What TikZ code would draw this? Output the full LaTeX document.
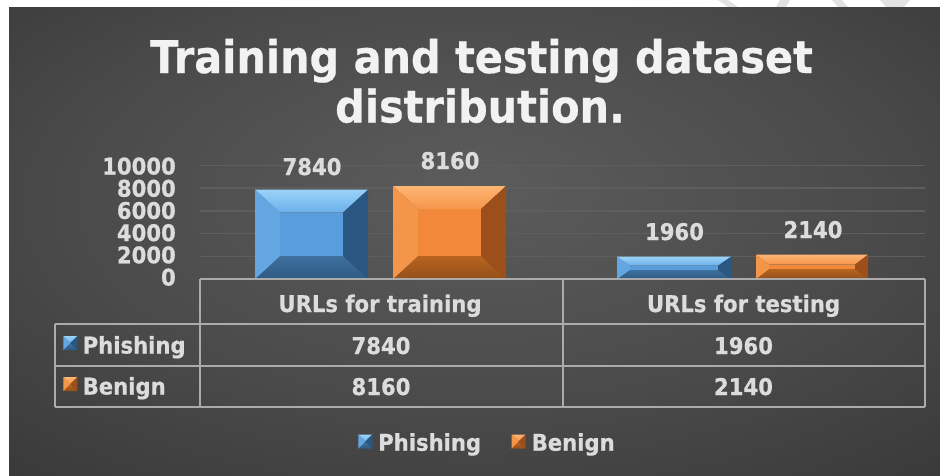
\documentclass[tikz,border=0pt]{standalone}
\usepackage{fontspec}
\setmainfont{DejaVu Sans}[FakeStretch=0.92, BoldFeatures={FakeBold=0.6}]
\definecolor{ttlwhite}{HTML}{F2F2F2}
\definecolor{lbltxt}{HTML}{DCDCDC}
\definecolor{gridc}{HTML}{5E5E5E}
\definecolor{tabline}{HTML}{ABABAB}
\definecolor{wmark}{HTML}{E2E2E2}
% blue bevel
\definecolor{bface}{HTML}{5A9DDC}
\definecolor{btop}{HTML}{9AD3F8}
\definecolor{btopb}{HTML}{6AB0EC}
\definecolor{bleft}{HTML}{64A6E2}
\definecolor{bright}{HTML}{2A5782}
\definecolor{bbot}{HTML}{3E709E}
\definecolor{bbotb}{HTML}{2F5A84}
% orange bevel
\definecolor{oface}{HTML}{F2893A}
\definecolor{otop}{HTML}{FDB574}
\definecolor{otopb}{HTML}{F5964A}
\definecolor{oleft}{HTML}{F4964A}
\definecolor{oright}{HTML}{9C4F1B}
\definecolor{obot}{HTML}{B8641F}
\definecolor{obotb}{HTML}{94501A}
\pgfdeclareradialshading{bgshade}{\pgfpoint{0bp}{6bp}}{%
  color(0bp)=(rgb,255:red,92;green,92;blue,92);
  color(22bp)=(rgb,255:red,74;green,74;blue,74);
  color(45bp)=(rgb,255:red,50;green,50;blue,50);
  color(72bp)=(rgb,255:red,36;green,36;blue,36)}
\newcommand{\bevbar}[7]{%
  \fill[#7face] (#1+#5,#3+#6) rectangle (#2-#5,#4-#6);
  \shade[top color=#7top, bottom color=#7topb] (#1,#3) -- (#2,#3) -- (#2-#5,#3+#6) -- (#1+#5,#3+#6) -- cycle;
  \shade[top color=#7bot, bottom color=#7botb] (#1,#4) -- (#2,#4) -- (#2-#5,#4-#6) -- (#1+#5,#4-#6) -- cycle;
  \fill[#7left] (#1,#3) -- (#1+#5,#3+#6) -- (#1+#5,#4-#6) -- (#1,#4) -- cycle;
  \fill[#7right] (#2,#3) -- (#2-#5,#3+#6) -- (#2-#5,#4-#6) -- (#2,#4) -- cycle;
}
\tikzset{
  ttl/.style={text=ttlwhite, font=\fontsize{45}{45}\selectfont\bfseries, anchor=base, inner sep=0pt},
  lbl/.style={text=lbltxt, font=\fontsize{23}{23}\selectfont\bfseries, anchor=base, inner sep=0pt},
  axl/.style={lbl, anchor=base east},
  lft/.style={lbl, anchor=base west},
  gridl/.style={draw=gridc, line width=1.3pt},
  tabl/.style={draw=tabline, line width=1.6pt},
}
\begin{document}
\begin{tikzpicture}[x=1pt, y=-1pt]
\useasboundingbox (0,0) rectangle (940,475);
\fill[white] (0,0) rectangle (940,475);
% watermark fragments
\fill[wmark] (718,0) -- (728,0) -- (738,7) -- (728,7) -- cycle;
\fill[wmark] (780,0) -- (790,0) -- (786,7) -- (776,7) -- cycle;
\fill[wmark] (832,0) -- (842,0) -- (848,7) -- (838,7) -- cycle;
\fill[wmark] (880,0) -- (910,0) -- (904,7) -- (886,7) -- cycle;
% panel
\shade[shading=bgshade] (9,7) rectangle (940,475);
% gridlines
\foreach \yy in {165.3,188.1,210.9,233.6,256.4}
  \draw[gridl] (200,\yy) -- (925,\yy);
% axis labels
\node[axl] (y10) at (176,174.5) {10000};
\node[axl] (y8) at (176,196.7) {8000};
\node[axl] (y6) at (176,218.9) {6000};
\node[axl] (y4) at (176,241.1) {4000};
\node[axl] (y2) at (176,263.3) {2000};
\node[axl] (y0) at (176,285.5) {0};
% bars
\bevbar{255}{368}{189.6}{279}{25}{23}{b}
\bevbar{393}{506}{186}{279}{25}{23}{o}
\bevbar{617}{731}{256.7}{279}{13}{9}{b}
\bevbar{756}{868}{254.6}{279}{13}{10}{o}
% value labels
\node[lbl] (v1) at (312,175) {7840};
\node[lbl] (v2) at (450,169) {8160};
\node[lbl] (v3) at (674.5,240) {1960};
\node[lbl] (v4) at (813,238) {2140};
% title
\node[ttl] (t1) at (481.5,73) {Training and testing dataset};
\node[ttl] (t2) at (480,122.5) {distribution.};
% table
\draw[tabl] (200,279) -- (925,279);
\draw[tabl] (55,324) -- (925,324);
\draw[tabl] (55,366) -- (925,366);
\draw[tabl] (55,407) -- (925,407);
\draw[tabl] (55,324) -- (55,407);
\draw[tabl] (200,279) -- (200,407);
\draw[tabl] (563,279) -- (563,407);
\draw[tabl] (925,279) -- (925,407);
\node[lbl] (h1) at (380,312) {URLs for training};
\node[lbl] (h2) at (743.5,312) {URLs for testing};
\node[lbl] (c11) at (381,354) {7840};
\node[lbl] (c12) at (743.5,354) {1960};
\node[lbl] (c21) at (381,395) {8160};
\node[lbl] (c22) at (743.5,395) {2140};
\bevbar{63.3}{77.3}{336}{350}{7}{7}{b}
\node[lft] (r1) at (82.5,353.5) {Phishing};
\bevbar{63.3}{77.3}{377}{391}{7}{7}{o}
\node[lft] (r2) at (82.5,394.5) {Benign};
% legend
\bevbar{358.3}{372.3}{434.5}{448.5}{7}{7}{b}
\node[lft] (l1) at (378,450.7) {Phishing};
\bevbar{511.7}{525.7}{434.5}{448.5}{7}{7}{o}
\node[lft] (l2) at (531.5,450.7) {Benign};
\end{tikzpicture}
\end{document}
